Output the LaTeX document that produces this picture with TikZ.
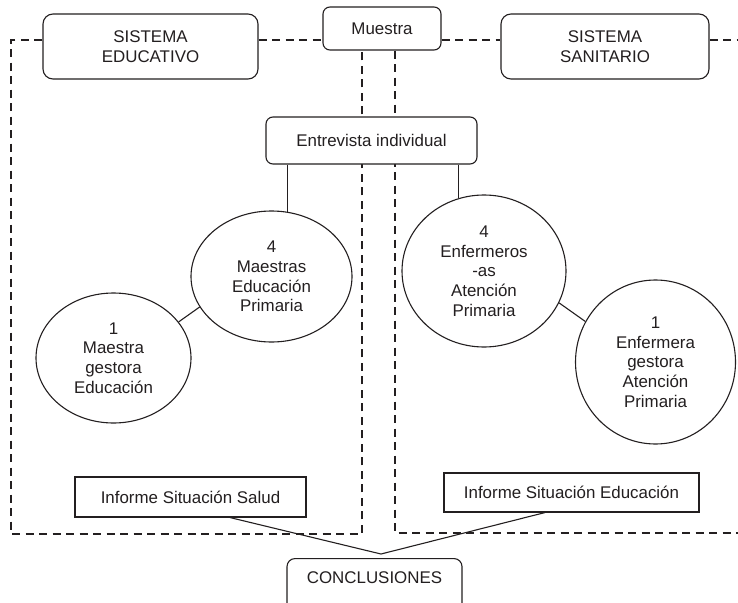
\documentclass[tikz,border=0pt]{standalone}
\usepackage{fontspec}
\setmainfont{Liberation Sans}
\usetikzlibrary{shapes.geometric,calc,backgrounds}
\definecolor{ink}{RGB}{35,31,32}
\tikzset{
  every node/.style={font=\fontsize{16.9}{19.7}\selectfont, text=ink, align=center},
  rbox/.style={draw=ink, fill=white, line width=1.1pt, rounded corners=10pt, inner sep=0pt},
  sbox/.style={draw=ink, fill=white, line width=1.1pt, inner sep=0pt},
  oval/.style={draw=ink, fill=white, line width=1.1pt, ellipse, inner sep=0pt},
  conn/.style={draw=ink, line width=1.1pt},
  dashbox/.style={draw=ink, line width=1.1pt, dash pattern=on 8pt off 5.5pt}
}
\begin{document}
\begin{tikzpicture}[x=1pt,y=-1pt]
\useasboundingbox (0,0) rectangle (738,602);
\clip (0,0) rectangle (738,602);
% boxes
\node[rbox, minimum width=215pt, minimum height=65pt] (sisedu) at (150.5,46.5) {SISTEMA\\EDUCATIVO};
\node[rbox, rounded corners=7pt, minimum width=118pt, minimum height=43pt] (muestra) at (382,28.5) {Muestra};
\node[rbox, minimum width=208pt, minimum height=65pt] (sissan) at (605,46.5) {SISTEMA\\SANITARIO};
\node[rbox, rounded corners=7pt, minimum width=211pt, minimum height=47pt] (entrev) at (371.5,140.5) {Entrevista individual};
% ellipses
\node[oval, minimum width=161pt, minimum height=131pt] (e4m) at (271.5,276.5) {4\\Maestras\\Educación\\Primaria};
\node[oval, minimum width=155pt, minimum height=130pt] (e1m) at (113.5,358) {1\\Maestra\\gestora\\Educación};
\node[oval, minimum width=164pt, minimum height=152pt] (e4e) at (484,271) {4\\Enfermeros\\-as\\Atención\\Primaria};
\node[oval, minimum width=160pt, minimum height=164pt] (e1e) at (655.5,362) {1\\Enfermera\\gestora\\Atención\\Primaria};
% informe boxes
\node[sbox, minimum width=231pt, minimum height=40pt] (salud) at (190.5,497) {Informe Situación Salud};
\node[sbox, minimum width=255pt, minimum height=39pt] (educ) at (571.5,492.5) {Informe Situación Educación};
\node[rbox, rounded corners=8pt, anchor=north, minimum width=175pt, text height=12pt, text depth=30pt, inner ysep=13pt] (concl) at (374.5,558) {CONCLUSIONES};
% coordinates
\coordinate (topline) at (0,40);
\coordinate (xl) at (11,0);
\coordinate (xm) at (362,0);
\coordinate (xr) at (395,0);
\coordinate (xe) at (738,0);
\coordinate (bl) at (0,534);
\coordinate (br) at (0,533);
\coordinate (apex) at (381,554);
\coordinate (xs) at (230,0);
\coordinate (xd) at (545,0);
\begin{pgfonlayer}{background}
% dashed frames
\draw[dashbox] (sisedu.west |- topline) -- (xl |- topline) -- (xl |- bl) -- (xm |- bl) -- (xm |- muestra.south);
\draw[dashbox] (sisedu.east |- topline) -- (muestra.west |- topline);
\draw[dashbox] (muestra.east |- topline) -- (sissan.west |- topline);
\draw[dashbox] (sissan.east |- topline) -- (xe |- topline);
\draw[dashbox] (xr |- muestra.south) -- (xr |- br) -- (xe |- br);
\end{pgfonlayer}
% connectors
\draw[conn] (entrev.south -| e4m.76.8) -- (e4m.76.8);
\draw[conn] (entrev.south -| e4e.109.9) -- (e4e.109.9);
\draw[conn] (e4m.203.6) -- (e1m.29.8);
\draw[conn] (e4e.337.2) -- (e1e.150.2);
\draw[conn] (salud.south -| xs) -- (apex) -- (educ.south -| xd);
\end{tikzpicture}
\end{document}
